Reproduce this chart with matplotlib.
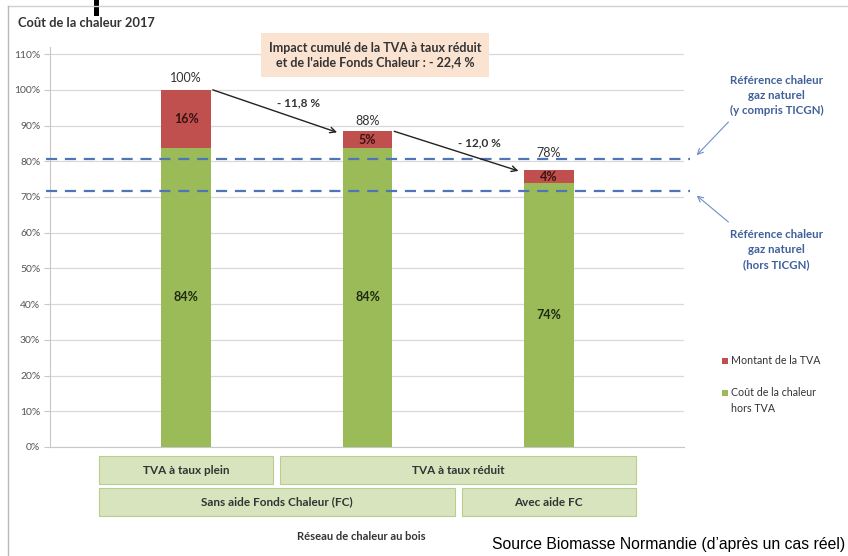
import matplotlib
matplotlib.use('Agg')
import numpy as np
from matplotlib import pyplot as plt
from matplotlib import transforms
from matplotlib.patches import Rectangle

# Data
scenarios = ['TVA plein, sans FC', 'TVA réduit, sans FC', 'TVA réduit, avec FC']
cout_hors_tva = [83.8, 83.8, 73.8]
montant_tva = [16.2, 4.6, 3.8]
variations = [-11.8, -12.0]
ref_avec_ticgn = 80.7
ref_hors_ticgn = 71.7
impact_cumule = -22.4
yticks = list(range(0, 111, 10))

row_tva = [('TVA à taux plein', 0, 0), ('TVA à taux réduit', 1, 2)]
row_fc = [('Sans aide Fonds Chaleur (FC)', 0, 1), ('Avec aide FC', 2, 2)]

GREEN = '#9bbb59'
RED = '#c0504d'
BLUE = '#4f75b8'
TXT = '#333333'
FONT = 'Lato'

W, H = 848, 556


def fx(px):
    return px / W


def fy(py):
    return 1 - py / H


def fr(val):
    """French number format with comma decimal."""
    return ('%.1f' % abs(val)).replace('.', ',')


plt.rcParams['font.family'] = [FONT, 'DejaVu Sans']

fig = plt.figure(figsize=(W / 100, H / 100), dpi=100)
ax = fig.add_axes([fx(50), fy(447), fx(684) - fx(50), fy(47) - fy(447)])

x = np.arange(len(scenarios))
width = 0.275
totals = np.array(cout_hors_tva) + np.array(montant_tva)
# vertical gap (in %) between bar top and its total label
total_gap = [3.4, 2.8, 4.7]

bars_g = ax.bar(x, cout_hors_tva, width, color=GREEN, zorder=3)
bars_r = ax.bar(x, montant_tva, width, bottom=cout_hors_tva, color=RED, zorder=3)

for i in x:
    ax.text(i, cout_hors_tva[i] / 2, '%d%%' % round(cout_hors_tva[i]),
            ha='center', va='center', fontsize=9, fontweight='bold',
            color='#1e2a10', zorder=5)
    ax.text(i, cout_hors_tva[i] + montant_tva[i] / 2, '%d%%' % round(montant_tva[i]),
            ha='center', va='center', fontsize=9, fontweight='bold',
            color='#3a1212', zorder=5)
    ax.text(i, totals[i] + total_gap[i], '%d%%' % round(totals[i]),
            ha='center', va='center', fontsize=9, color=TXT, zorder=5)

# arrows between bars
for i, v in enumerate(variations):
    x0, y0 = i + width / 2 + 0.01, totals[i]
    x1, y1 = i + 1 - width / 2 - 0.03, totals[i + 1] - 0.3
    ax.annotate('', xy=(x1, y1), xytext=(x0, y0),
                arrowprops=dict(arrowstyle='->', color='#222222', lw=1.0,
                                shrinkA=0, shrinkB=0), zorder=6)
    ax.text((x0 + x1) / 2 + 0.13, (y0 + y1) / 2 + 2.3, '- %s %%' % fr(v),
            ha='center', va='center', fontsize=8.5, fontweight='bold', color=TXT)

# gas reference lines
for ref in (ref_avec_ticgn, ref_hors_ticgn):
    ax.plot([-0.77, 2.78], [ref, ref], ls=(0, (5, 3.5)), color=BLUE, lw=1.6,
            clip_on=False, zorder=4)

ref_labels = ['Référence chaleur\ngaz naturel\n(y compris TICGN)',
              'Référence chaleur\ngaz naturel\n(hors TICGN)']
for ref, label, ytxt, ystart in ((ref_avec_ticgn, ref_labels[0], 98.5, 91.0),
                                 (ref_hors_ticgn, ref_labels[1], 55.4, 63.0)):
    ax.text(3.256, ytxt, label, ha='center', va='center', fontsize=8.3,
            fontweight='bold', color='#3f609a', linespacing=1.45, clip_on=False)
    yend = ref + (1.0 if ystart > ref else -1.3)
    ax.annotate('', xy=(2.815, yend), xytext=(2.99, ystart),
                annotation_clip=False,
                arrowprops=dict(arrowstyle='->', color='#6f8fc4', lw=0.8,
                                shrinkA=0, shrinkB=0))

ax.set_xlim(-0.75, 2.745)
ax.set_ylim(0, 112)
ax.set_yticks(yticks)
ax.set_yticklabels(['%d%%' % t for t in yticks], fontsize=7.5, color='#555555')
ax.set_xticks([])
ax.yaxis.grid(True, color='#d9d9d9', lw=0.9, zorder=0)
ax.tick_params(axis='y', length=4, color='#c8c8c8', pad=3)
for side in ('top', 'right'):
    ax.spines[side].set_visible(False)
for side in ('left', 'bottom'):
    ax.spines[side].set_color('#c8c8c8')

# category boxes under the axis
blend = transforms.blended_transform_factory(ax.transData, fig.transFigure)
for row, (ytop, ybot) in ((row_tva, (456, 484)), (row_fc, (488, 516))):
    for label, a, b in row:
        x0, x1 = a - 0.48, b + 0.48
        ax.add_patch(Rectangle((x0, fy(ybot)), x1 - x0, fy(ytop) - fy(ybot),
                               transform=blend, facecolor='#d7e4bd',
                               edgecolor='#b9cd92', lw=0.8, clip_on=False))
        ax.text((x0 + x1) / 2, (fy(ytop) + fy(ybot)) / 2, label, transform=blend,
                ha='center', va='center', fontsize=8.5, fontweight='bold', color=TXT)

# impact box
fig.text(fx(375), fy(55), "Impact cumulé de la TVA à taux réduit\n"
         "et de l'aide Fonds Chaleur : - %s %%" % fr(impact_cumule),
         ha='center', va='center', fontsize=9, fontweight='bold', color=TXT,
         linespacing=1.3,
         bbox=dict(boxstyle='square,pad=0.65', facecolor='#fbe3d1', edgecolor='none'))

# legend drawn by hand
fig.patches.append(Rectangle((fx(722), fy(364)), 6 / W, 6 / H, facecolor=RED,
                             transform=fig.transFigure, figure=fig))
fig.text(fx(731), fy(361), 'Montant de la TVA', ha='left', va='center',
         fontsize=7.7, color=TXT)
fig.patches.append(Rectangle((fx(722), fy(396)), 6 / W, 6 / H, facecolor=GREEN,
                             transform=fig.transFigure, figure=fig))
fig.text(fx(731), fy(393), 'Coût de la chaleur', ha='left', va='center',
         fontsize=7.7, color=TXT)
fig.text(fx(731), fy(408), 'hors TVA', ha='left', va='center',
         fontsize=7.7, color=TXT)

fig.text(fx(18), fy(23), 'Coût de la chaleur 2017', ha='left', va='center',
         fontsize=9.3, fontweight='bold', color=TXT)
fig.text(fx(361), fy(537), 'Réseau de chaleur au bois', ha='center', va='center',
         fontsize=8, fontweight='bold', color=TXT)
fig.text(fx(845), fy(545), "Source Biomasse Normandie (d\u2019après un cas réel)",
         ha='right', va='center', fontsize=11.3, color='black',
         family='Liberation Sans')

# outer frame and the black mark at top
fig.add_artist(plt.Line2D([fx(8), fx(848)], [fy(6), fy(6)], color='#d0d0d0', lw=1))
fig.add_artist(plt.Line2D([fx(8), fx(8)], [fy(6), fy(556)], color='#b8b8b8', lw=1))
fig.patches.append(Rectangle((fx(94), fy(16)), 5 / W, 16 / H, facecolor='black',
                             transform=fig.transFigure, figure=fig))

fig.savefig('out.png', dpi=100)
